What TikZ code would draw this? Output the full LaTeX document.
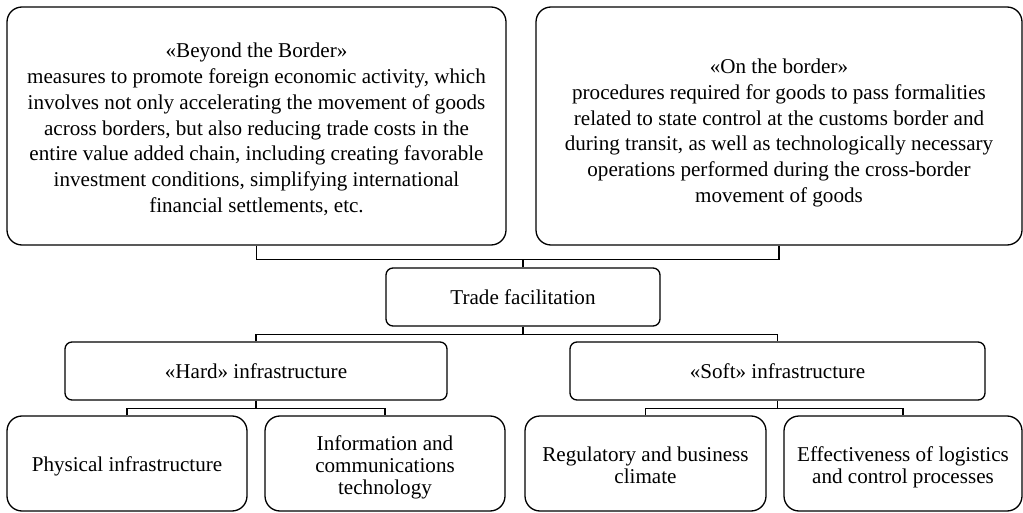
\documentclass[tikz,border=0pt]{standalone}
\usepackage{fontspec}
\setmainfont{Liberation Serif}
\usepackage{tikz}

% invisible strut to push the first line down a little
\newcommand{\padtop}[1]{\rule{0pt}{#1}}

\tikzset{
    bigbox/.style={draw, line width=1.3pt, rounded corners=15pt, align=center, inner sep=0pt, font=\fontsize{21.1}{25.8}\selectfont},
    midbox/.style={draw, line width=1.3pt, rounded corners=7pt, align=center, inner sep=0pt, font=\fontsize{21.1}{25}\selectfont},
    lowbox/.style={draw, line width=1.3pt, rounded corners=15pt, align=center, inner sep=0pt, font=\fontsize{21.1}{21.7}\selectfont},
    link/.style={line width=1.3pt},
}

\begin{document}
\begin{tikzpicture}[x=1pt, y=-1pt]
    \useasboundingbox (0,0) rectangle (1023,513);

    % Draw the two upper boxes
    \node[bigbox, minimum width=499pt, minimum height=238pt] (beyond) at (256.5,126) {\padtop{21.6pt}«Beyond the Border»\\measures to promote foreign economic activity, which\\involves not only accelerating the movement of goods\\across borders, but also reducing trade costs in the\\entire value added chain, including creating favorable\\investment conditions, simplifying international\\financial settlements, etc.};
    \node[bigbox, minimum width=486pt, minimum height=238pt] (onborder) at (779,126) {\padtop{28.6pt}«On the border»\\procedures required for goods to pass formalities\\related to state control at the customs border and\\during transit, as well as technologically necessary\\operations performed during the cross-border\\movement of goods};

    % Middle boxes
    \node[midbox, minimum width=274pt, minimum height=58pt] (trade) at (523,297) {Trade facilitation};
    \node[midbox, minimum width=382pt, minimum height=58pt] (hard) at (256,371) {«Hard» infrastructure};
    \node[midbox, minimum width=415pt, minimum height=58pt] (soft) at (777.5,371) {«Soft» infrastructure};

    % Lower boxes
    \node[lowbox, minimum width=240pt, minimum height=95pt] (phys) at (127,463.5) {\padtop{20.6pt}Physical infrastructure};
    \node[lowbox, minimum width=240pt, minimum height=95pt] (ict) at (385,463.5) {\padtop{22.6pt}Information and\\communications\\technology};
    \node[lowbox, minimum width=241pt, minimum height=95pt] (regul) at (645.5,463.5) {\padtop{18.6pt}Regulatory and business\\climate};
    \node[lowbox, minimum width=238pt, minimum height=95pt] (effect) at (903,463.5) {\padtop{22.6pt}Effectiveness of logistics\\and control processes};

    % Connectors
    \draw[link] (beyond.south) -- ++(0,14) coordinate (topjoin) -| (onborder.south);
    \draw[link] (trade.north) -- (trade.north |- topjoin);
    \draw[link] (trade.south) -- ++(0,8) coordinate (midjoin);
    \draw[link] (hard.north) |- (midjoin) -| (soft.north);
    \draw[link] (hard.south) -- ++(0,8) coordinate (hardjoin);
    \draw[link] (phys.north) |- (hardjoin) -| (ict.north);
    \draw[link] (soft.south) -- ++(0,8) coordinate (softjoin);
    \draw[link] (regul.north) |- (softjoin) -| (effect.north);
\end{tikzpicture}
\end{document}
